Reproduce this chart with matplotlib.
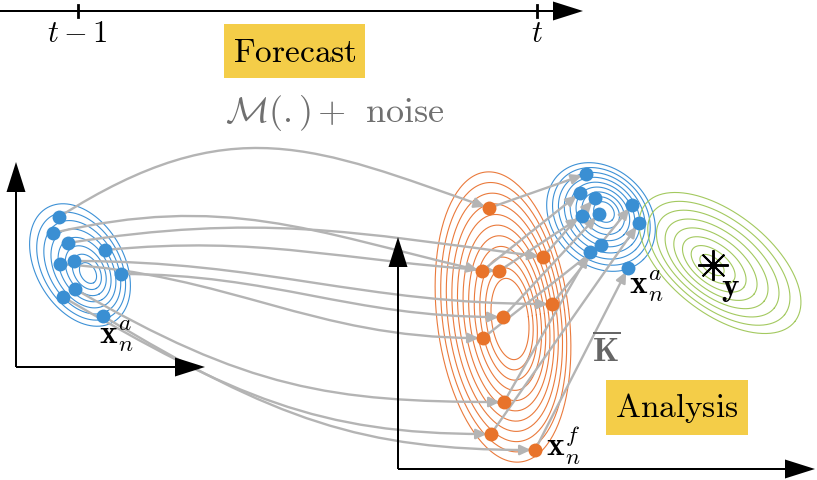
import numpy as np
import matplotlib
matplotlib.use("Agg")
import matplotlib.pyplot as plt
import matplotlib.patches as patches
from matplotlib.path import Path

plt.rcParams['mathtext.fontset'] = 'cm'

# ensemble members (pixel positions in the sketch)
prior_x = [59, 53, 68, 105, 74, 60, 121, 75, 63, 103]
prior_y = [218, 234, 244, 251, 262, 265, 275, 290, 298, 317]
fcst_x = [489, 482, 499, 543, 552, 503, 483, 504, 491, 535]
fcst_y = [209, 272, 272, 258, 305, 318, 339, 403, 435, 451]
anal_x = [586, 580, 595, 632, 582, 599, 639, 601, 590, 628]
anal_y = [175, 194, 199, 206, 217, 215, 224, 246, 253, 269]

# which forecast member each prior member is propagated to, and how the curve bows
prop_to = [0, 1, 3, 2, 4, 6, 5, 7, 8, 9]
bow_start = [-110, -40, -30, -15, 0, 10, 0, 100, 100, 104]
bow_end = [-60, -40, -25, -10, 0, 0, 0, 0, 0, 0]
# which analysis member each forecast member is updated to
upd_to = [0, 1, 4, 2, 3, 5, 7, 8, 6, 9]

obs_x, obs_y = 713, 266

# contour sets: outer centre, inner centre, semi axes, angle, rings, inner scale
blobs = {
    'prior': dict(c0=(80, 266), c1=(88, 274), a=66, b=44, ang=60, n=8, s=0.17, col='#3d91d6'),
    'anal': dict(c0=(601, 218), c1=(604, 213), a=60, b=48, ang=45, n=9, s=0.19, col='#3d91d6'),
    'fcst': dict(c0=(503, 318), c1=(510, 320), a=66, b=146, ang=-7, n=11, s=0.28, col='#ea7a3c'),
    'obs': dict(c0=(720, 264), c1=(712, 266), a=95, b=50, ang=38, n=8, s=0.15, col='#a3c95f'),
}

BLUE = '#3a8fd3'
ORANGE = '#e8732a'
GRAY = '#b4b4b4'
YELLOW = '#f4cd48'

fig = plt.figure(figsize=(8.17, 4.81), dpi=100)
ax = fig.add_axes([0, 0, 1, 1])
ax.set_xlim(0, 817)
ax.set_ylim(481, 0)
ax.axis('off')


def ring(cx, cy, a, b, ang):
    t = np.linspace(0, 2 * np.pi, 200)
    th = np.radians(ang)
    x = cx + a * np.cos(t) * np.cos(th) - b * np.sin(t) * np.sin(th)
    y = cy + a * np.cos(t) * np.sin(th) + b * np.sin(t) * np.cos(th)
    return x, y


for name, d in blobs.items():
    for k in np.linspace(d['s'], 1, d['n']):
        f = (k - d['s']) / (1 - d['s'])
        cx = d['c1'][0] + f * (d['c0'][0] - d['c1'][0])
        cy = d['c1'][1] + f * (d['c0'][1] - d['c1'][1])
        x, y = ring(cx, cy, d['a'] * k, d['b'] * k, d['ang'])
        ax.plot(x, y, color=d['col'], lw=0.8, zorder=1)


def shorten(p_prev, p_end, by=4):
    v = np.array(p_end, float) - np.array(p_prev, float)
    v /= np.hypot(*v)
    return tuple(np.array(p_end, float) - by * v)


astyle = '-|>,head_length=0.65,head_width=0.3'

# forecast step: curved arrows
for i, j in enumerate(prop_to):
    p0 = (prior_x[i], prior_y[i])
    p3 = (fcst_x[j], fcst_y[j])
    dx = p3[0] - p0[0]
    p1 = (p0[0] + 0.4 * dx, p0[1] + bow_start[i])
    p2 = (p3[0] - 0.4 * dx, p3[1] + bow_end[i])
    p3 = shorten(p2, p3)
    path = Path([p0, p1, p2, p3], [Path.MOVETO, Path.CURVE4, Path.CURVE4, Path.CURVE4])
    ax.add_patch(patches.FancyArrowPatch(path=path, arrowstyle=astyle, mutation_scale=10,
                                         color=GRAY, lw=1.7, zorder=2))

# analysis step: straight arrows
for i, j in enumerate(upd_to):
    p0 = (fcst_x[i], fcst_y[i])
    p3 = shorten(p0, (anal_x[j], anal_y[j]))
    path = Path([p0, p3], [Path.MOVETO, Path.LINETO])
    ax.add_patch(patches.FancyArrowPatch(path=path, arrowstyle=astyle, mutation_scale=10,
                                         color=GRAY, lw=1.7, zorder=2))

ax.plot(prior_x, prior_y, 'o', color=BLUE, ms=10, mew=0, zorder=3)
ax.plot(anal_x, anal_y, 'o', color=BLUE, ms=10, mew=0, zorder=3)
ax.plot(fcst_x, fcst_y, 'o', color=ORANGE, ms=10, mew=0, zorder=3)
ax.plot(obs_x, obs_y, marker=(8, 2, 0), color='black', ms=22, mew=1.4, zorder=3)

# axes of the two state spaces and the time line
arrows = [(0, 12, 583, 12), (16, 368, 16, 163), (16, 368, 205, 368),
          (398, 470, 398, 238), (398, 470, 815, 470)]
for x0, y0, x1, y1 in arrows:
    ax.arrow(x0, y0, x1 - x0, y1 - y0, width=2, head_width=19, head_length=30,
             length_includes_head=True, color='black', lw=0, zorder=4)
for tx in [78, 537]:
    ax.plot([tx, tx], [6, 18], color='black', lw=2, zorder=4)

ax.text(77, 42, r'$t-1$', fontsize=22, ha='center', va='baseline')
ax.text(537, 42, r'$t$', fontsize=22, ha='center', va='baseline')

ax.add_patch(patches.Rectangle((224, 25), 141, 54, color=YELLOW, lw=0, zorder=0))
ax.text(295, 62, r'$\mathrm{Forecast}$', fontsize=24, ha='center', va='baseline')
ax.text(225, 122, r'$\mathcal{M}(.)\,{+}\;\ \mathrm{noise}$', fontsize=26, color='#707070',
        ha='left', va='baseline')

ax.add_patch(patches.Rectangle((606, 381), 142, 55, color=YELLOW, lw=0, zorder=0))
ax.text(677, 417, r'$\mathrm{Analysis}$', fontsize=24, ha='center', va='baseline')

ax.text(99, 343, r'$\mathbf{x}_n^a$', fontsize=24, ha='left', va='baseline', zorder=5)
ax.text(629, 293, r'$\mathbf{x}_n^a$', fontsize=24, ha='left', va='baseline', zorder=5)
ax.text(546, 456, r'$\mathbf{x}_n^f$', fontsize=24, ha='left', va='baseline', zorder=5)
ax.text(592, 361, r'$\overline{\mathbf{K}}$', fontsize=24, color='#666666', ha='left', va='baseline')
ax.text(721, 296, r'$\mathbf{y}$', fontsize=24, ha='left', va='baseline', zorder=5)

fig.savefig('out.png', dpi=100)
